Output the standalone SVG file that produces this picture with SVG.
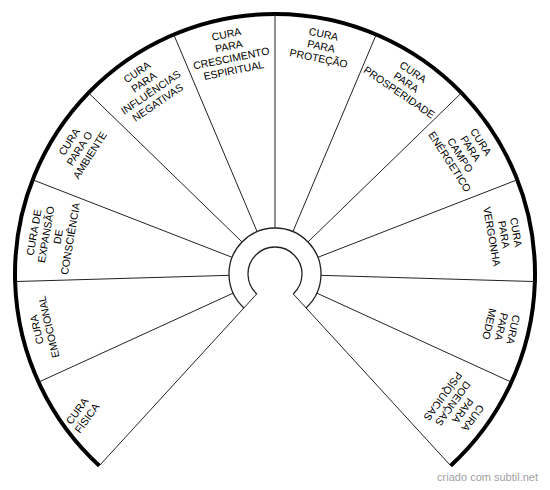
<svg xmlns="http://www.w3.org/2000/svg" width="550" height="490" viewBox="0 0 550 490">
<style>
.bg{fill:#fff}
.rim{fill:none;stroke:#000;stroke-width:4}
.ring{fill:none;stroke:#222;stroke-width:1.3}
.div{stroke:#222;stroke-width:1;fill:none}
.lbl{font-family:"Liberation Sans",Arial,sans-serif;font-size:10.5px;fill:#000;text-anchor:middle;dominant-baseline:central}
.wm{font-family:"Liberation Sans",Arial,sans-serif;font-size:11px;fill:#a0a0a0;text-anchor:end}
</style>
<rect class="bg" x="0" y="0" width="550" height="490"/>
<g id="wheel">
<path class="rim" d="M99.35 465.69 A260 260 0 1 1 450.65 465.69"/>
<path class="ring" d="M243.92 307.91 A46 46 0 1 1 306.08 307.91"/>
<path class="ring" d="M256.76 293.91 A27 27 0 1 1 293.24 293.91"/>
</g>
<g id="connectors">
<path class="div" d="M256.76 293.91 L99.35 465.69"/>
<path class="div" d="M233.17 293.14 L38.57 382.17"/>
<path class="div" d="M229.02 275.34 L15.11 281.56"/>
<path class="div" d="M232.13 257.33 L32.68 179.77"/>
<path class="div" d="M242.00 241.95 L88.50 92.84"/>
<path class="div" d="M257.09 231.63 L173.76 34.52"/>
<path class="div" d="M275 228 L275 14"/>
<path class="div" d="M292.91 231.63 L376.24 34.52"/>
<path class="div" d="M308.00 241.95 L461.50 92.84"/>
<path class="div" d="M317.87 257.33 L517.32 179.77"/>
<path class="div" d="M320.98 275.34 L534.89 281.56"/>
<path class="div" d="M316.83 293.14 L511.43 382.17"/>
<path class="div" d="M293.24 293.91 L450.65 465.69"/>
</g>
<g id="s-fisica" class="lbl" transform="translate(81.8,414.4) rotate(-54)">
<text class="lbl" x="0" y="-6.15">CURA</text>
<text class="lbl" x="0" y="6.15">FÍSICA</text>
</g>
<g id="s-emocional" transform="rotate(256.875 275 274)">
<text class="lbl" x="275" y="29">CURA</text>
<text class="lbl" x="275" y="41.3">EMOCIONAL</text>
</g>
<g id="s-expansao" transform="rotate(279.792 275 274)">
<text class="lbl" x="275" y="29">CURA DE</text>
<text class="lbl" x="275" y="41.3">EXPANSÃO</text>
<text class="lbl" x="275" y="53.6">DE</text>
<text class="lbl" x="275" y="65.9">CONSCIÊNCIA</text>
</g>
<g id="s-ambiente" transform="rotate(302.708 275 274)">
<text class="lbl" x="275" y="29">CURA</text>
<text class="lbl" x="275" y="41.3">PARA O</text>
<text class="lbl" x="275" y="53.6">AMBIENTE</text>
</g>
<g id="s-influencias" transform="rotate(325.625 275 274)">
<text class="lbl" x="275" y="29">CURA</text>
<text class="lbl" x="275" y="41.3">PARA</text>
<text class="lbl" x="275" y="53.6">INFLUÊNCIAS</text>
<text class="lbl" x="275" y="65.9">NEGATIVAS</text>
</g>
<g id="s-crescimento" transform="rotate(348.542 275 274)">
<text class="lbl" x="275" y="29">CURA</text>
<text class="lbl" x="275" y="41.3">PARA</text>
<text class="lbl" x="275" y="53.6">CRESCIMENTO</text>
<text class="lbl" x="275" y="65.9">ESPIRITUAL</text>
</g>
<g id="s-protecao" transform="rotate(11.458 275 274)">
<text class="lbl" x="275" y="29">CURA</text>
<text class="lbl" x="275" y="41.3">PARA</text>
<text class="lbl" x="275" y="53.6">PROTEÇÃO</text>
</g>
<g id="s-prosperidade" transform="rotate(34.375 275 274)">
<text class="lbl" x="275" y="29">CURA</text>
<text class="lbl" x="275" y="41.3">PARA</text>
<text class="lbl" x="275" y="53.6">PROSPERIDADE</text>
</g>
<g id="s-campo" transform="rotate(57.292 275 274)">
<text class="lbl" x="275" y="29">CURA</text>
<text class="lbl" x="275" y="41.3">PARA</text>
<text class="lbl" x="275" y="53.6">CAMPO</text>
<text class="lbl" x="275" y="65.9">ENÉRGETICO</text>
</g>
<g id="s-vergonha" transform="rotate(80.208 275 274)">
<text class="lbl" x="275" y="29">CURA</text>
<text class="lbl" x="275" y="41.3">PARA</text>
<text class="lbl" x="275" y="53.6">VERGONHA</text>
</g>
<g id="s-medo" transform="rotate(103.125 275 274)">
<text class="lbl" x="275" y="29">CURA</text>
<text class="lbl" x="275" y="41.3">PARA</text>
<text class="lbl" x="275" y="53.6">MEDO</text>
</g>
<g id="s-psiquicas" transform="rotate(126.042 275 274)">
<text class="lbl" x="275" y="29">CURA</text>
<text class="lbl" x="275" y="41.3">PARA</text>
<text class="lbl" x="275" y="53.6">DOENÇAS</text>
<text class="lbl" x="275" y="65.9">PSÍQUICAS</text>
</g>
<text class="wm" x="538" y="481">criado com subtil.net</text>
</svg>
